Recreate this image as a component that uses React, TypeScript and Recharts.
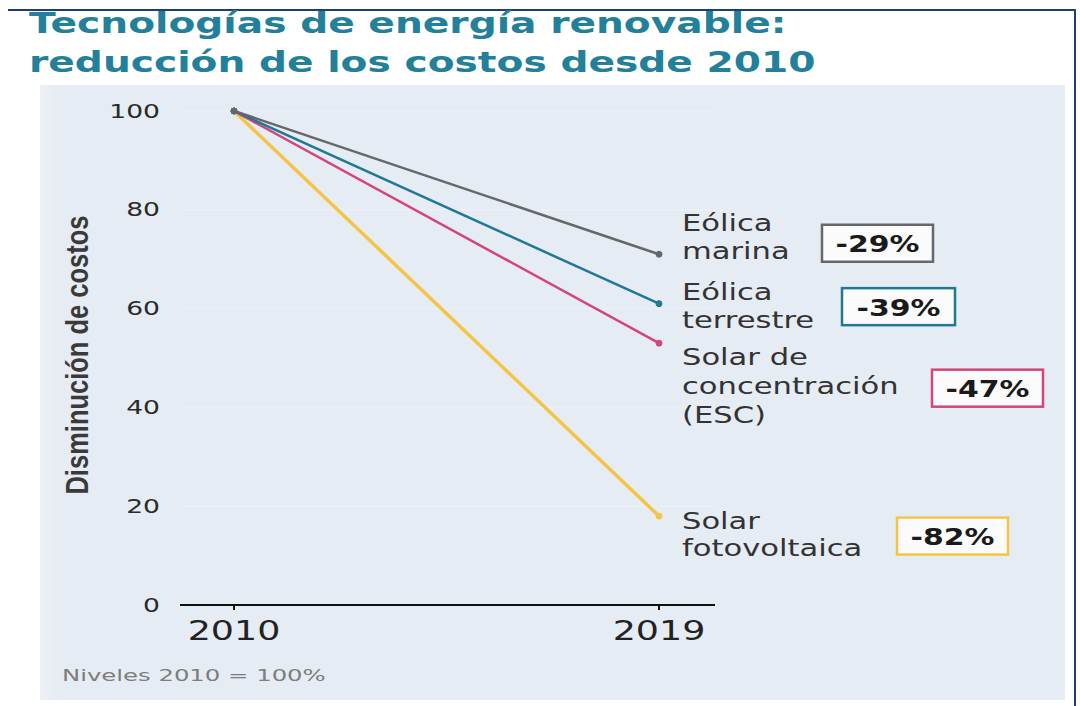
import { LineChart, Line, XAxis, YAxis, CartesianGrid, LabelList } from 'recharts'

const years = ['2010', '2019']
const seriesKeys = ['marina', 'terrestre', 'esc', 'fv']
const seriesLabels = [
  ['Eólica', 'marina'],
  ['Eólica', 'terrestre'],
  ['Solar de', 'concentración', '(ESC)'],
  ['Solar', 'fotovoltaica'],
]
const eolicaMarina = [100, 71]
const eolicaTerrestre = [100, 61]
const solarConcentracion = [100, 53]
const solarFotovoltaica = [100, 18]
const changes = ['-29%', '-39%', '-47%', '-82%']
const yTicks = [0, 20, 40, 60, 80, 100]

const colors = ['#66676b', '#1f7896', '#d5457b', '#f5c446']

// offsets of the end labels relative to the last point (px)
const labelLayout = [
  { lines: [-31, -3], boxDx: 163, boxDy: -11, boxW: 111 },
  { lines: [-12, 16], boxDx: 183, boxDy: 3, boxW: 113 },
  { lines: [14, 43, 72], boxDx: 273, boxDy: 45, boxW: 111 },
  { lines: [5, 32], boxDx: 238, boxDy: 20, boxW: 111 },
]

const data = years.map((year, i) => ({
  year,
  marina: eolicaMarina[i],
  terrestre: eolicaTerrestre[i],
  esc: solarConcentracion[i],
  fv: solarFotovoltaica[i],
}))

// the reference is stretched horizontally, so text gets a scaleX
function Wide({ x, y, sx, children, ...rest }: any) {
  return (
    <text transform={`translate(${x} ${y}) scale(${sx} 1)`} {...rest}>
      {children}
    </text>
  )
}

function YTick({ x, y, payload }: any) {
  return (
    <Wide x={x} y={y} sx={1.4} textAnchor="end" dominantBaseline="central" fontFamily="DejaVu Sans" fontSize={19} fill="#2a2a2a">
      {payload.value}
    </Wide>
  )
}

function XTick({ x, y, payload }: any) {
  return (
    <Wide x={x} y={y + 19} sx={1.35} textAnchor="middle" dominantBaseline="central" fontFamily="DejaVu Sans" fontSize={27} fill="#222">
      {payload.value}
    </Wide>
  )
}

function EndLabel(props: any, s: number) {
  const { x, y, index } = props
  if (index !== years.length - 1) return null
  const lay = labelLayout[s]
  const boxH = 37
  return (
    <g>
      {seriesLabels[s].map((t, j) => (
        <Wide
          key={j}
          x={x + 23}
          y={y + lay.lines[j]}
          sx={1.33}
          dominantBaseline="central"
          fontFamily="DejaVu Sans"
          fontSize={23}
          fill="#333"
        >
          {t}
        </Wide>
      ))}
      <rect
        x={x + lay.boxDx}
        y={y + lay.boxDy - boxH / 2}
        width={lay.boxW}
        height={boxH}
        fill="#fbfbfc"
        stroke={colors[s]}
        strokeWidth={2.5}
      />
      <Wide
        x={x + lay.boxDx + lay.boxW / 2}
        y={y + lay.boxDy + 1}
        sx={1.3}
        textAnchor="middle"
        dominantBaseline="central"
        fontFamily="DejaVu Sans"
        fontWeight="bold"
        fontSize={23}
        fill="#1a1a1a"
      >
        {changes[s]}
      </Wide>
    </g>
  )
}

export default function App() {
  // draw yellow first so the grey line sits on top at the shared start point
  const order = [3, 2, 1, 0]
  return (
    <div style={{ position: 'absolute', left: 0, top: 0, width: 1080, height: 706, background: '#fff', overflow: 'hidden' }}>
      <div style={{ position: 'absolute', left: 8, top: 9, width: 1068, height: 2, background: '#1d3f73' }} />
      <div style={{ position: 'absolute', left: 1074, top: 9, width: 2, height: 697, background: '#1d3f73' }} />
      <div
        style={{
          position: 'absolute',
          left: 40,
          top: 85,
          width: 1025,
          height: 615,
          background: 'linear-gradient(90deg, #eef1f5 0px, #e6ecf3 20px)',
        }}
      />
      <div
        style={{
          position: 'absolute',
          left: 29,
          top: 4,
          fontFamily: 'DejaVu Sans',
          fontWeight: 'bold',
          fontSize: 29,
          lineHeight: '39px',
          color: '#23809b',
          whiteSpace: 'nowrap',
          transform: 'scaleX(1.35)',
          transformOrigin: 'left top',
        }}
      >
        Tecnologías de energía renovable:
        <br />
        reducción de los costos desde 2010
      </div>
      <div style={{ position: 'absolute', left: 0, top: 0 }}>
        <LineChart width={1080} height={706} data={data} margin={{ top: 111, right: 365, bottom: 61, left: 120 }}>
          <CartesianGrid vertical={false} stroke="#ecf0f6" strokeWidth={1.5} />
          <XAxis
            dataKey="year"
            height={40}
            padding={{ left: 54, right: 56 }}
            axisLine={{ stroke: '#111', strokeWidth: 2 }}
            tickLine={{ stroke: '#111', strokeWidth: 2 }}
            tickSize={5}
            tick={<XTick />}
          />
          <YAxis
            type="number"
            domain={[0, 100]}
            ticks={yTicks}
            width={60}
            axisLine={false}
            tickLine={false}
            tickSize={0}
            tickMargin={20}
            tick={<YTick />}
            label={{
              value: 'Disminución de costos',
              content: () => (
                <text
                  transform="translate(77 355) scale(1.25 1) rotate(-90)"
                  textAnchor="middle"
                  dominantBaseline="central"
                  fontFamily="Liberation Sans"
                  fontWeight="bold"
                  fontSize={25.5}
                  fill="#3a3a3a"
                >
                  Disminución de costos
                </text>
              ),
            }}
          />
          {order.map((s) => (
            <Line
              key={seriesKeys[s]}
              dataKey={seriesKeys[s]}
              stroke={colors[s]}
              strokeWidth={s === 3 ? 3.5 : 2.5}
              dot={{ r: 3, fill: colors[s], stroke: colors[s], strokeWidth: 1 }}
              activeDot={false}
              isAnimationActive={false}
            >
              <LabelList dataKey={seriesKeys[s]} content={(p: any) => EndLabel(p, s)} />
            </Line>
          ))}
        </LineChart>
      </div>
      <div
        style={{
          position: 'absolute',
          left: 62,
          top: 666,
          fontFamily: 'DejaVu Sans',
          fontSize: 16,
          color: '#7d7d7d',
          whiteSpace: 'nowrap',
          transform: 'scaleX(1.52)',
          transformOrigin: 'left top',
        }}
      >
        Niveles 2010 = 100%
      </div>
    </div>
  )
}
